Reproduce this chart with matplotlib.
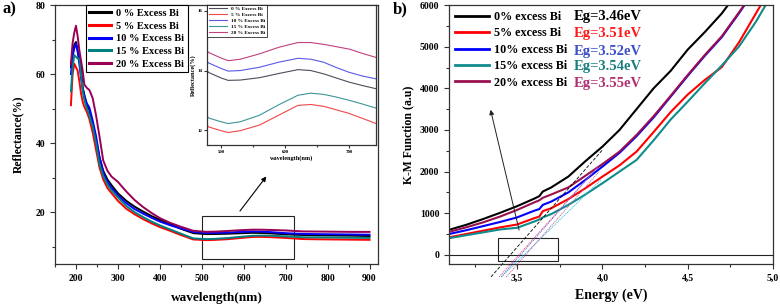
import matplotlib
matplotlib.use("Agg")
import matplotlib.pyplot as plt
from matplotlib.patches import Rectangle
from matplotlib.ticker import MultipleLocator

plt.rcParams['font.family'] = ['Liberation Serif', 'DejaVu Serif']
plt.rcParams['font.weight'] = 'bold'
plt.rcParams['axes.labelweight'] = 'bold'

FIG_W = 7.8  # inches
FIG_H = 3.05

# ---- panel a) diffuse reflectance ----
wavelength = [188, 192, 196, 200, 204, 208, 212, 216, 220, 226, 232, 240, 248, 256,
              265, 275, 285, 300, 320, 340, 360, 380, 400, 425, 450, 480, 500, 511,
              530, 560, 590, 620, 640, 660, 680, 700, 720, 742, 780, 820, 860, 900]

refl_0 = [62, 66, 68.5, 69.3, 67, 64.5, 62, 56, 54, 51, 49.6, 45, 41, 36,
          32, 29.5, 27.8, 25.5, 23.3, 21.6, 20.2, 18.9, 17.8, 16.6, 15.2, 13.94, 13.75, 13.67,
          13.68, 13.76, 13.9, 14.03, 14.0, 13.89, 13.75, 13.61, 13.5, 13.39, 13.3, 13.25, 13.2, 13.1]
refl_5 = [51, 60, 63, 62, 61, 58, 54.5, 52, 50.5, 49, 47, 43, 38, 33,
          29.5, 27, 25.5, 23.3, 21, 19.4, 18.0, 16.8, 15.7, 14.6, 13.4, 12.11, 11.98, 11.92,
          11.98, 12.17, 12.5, 12.83, 12.86, 12.8, 12.68, 12.56, 12.4, 12.22, 12.15, 12.1, 12.05, 12.0]
refl_10 = [60, 65, 67.5, 68.8, 66.5, 63, 59, 56, 53.5, 51.5, 50.3, 46.5, 42, 36,
           31.5, 28.8, 27, 24.9, 22.6, 20.9, 19.6, 18.4, 17.3, 16.2, 15.3, 14.26, 14.07, 13.98,
           14.0, 14.11, 14.28, 14.41, 14.38, 14.28, 14.1, 13.94, 13.82, 13.72, 13.65, 13.6, 13.55, 13.5]
refl_15 = [55, 62, 65.5, 65, 64.5, 64.5, 60, 55, 52.5, 50, 48, 44.8, 40, 34,
           30.5, 28, 26.3, 24.3, 21.8, 20.0, 18.6, 17.3, 16.2, 15.0, 13.8, 12.41, 12.28, 12.22,
           12.28, 12.5, 12.85, 13.17, 13.24, 13.2, 13.11, 13.0, 12.88, 12.74, 12.7, 12.65, 12.6, 12.55]
refl_20 = [63, 69, 72, 74, 71, 67, 64, 61, 57, 56, 55.4, 53, 48, 42,
           35, 32, 30.3, 28.8, 26, 23.5, 21.5, 19.8, 18.3, 16.9, 15.8, 14.61, 14.42, 14.33,
           14.38, 14.56, 14.78, 14.94, 14.94, 14.88, 14.8, 14.72, 14.58, 14.44, 14.4, 14.35, 14.3, 14.3]

labels_a = ["0 % Excess Bi", "5 % Excess Bi", "10 % Excess Bi", "15 % Excess Bi", "20 % Excess Bi"]
colors_a = ["#000000", "#ff0000", "#0000ff", "#008080", "#990055"]
colors_inset = ["#4d4d5c", "#f04848", "#5a5ae6", "#3c9696", "#c04080"]

# ---- panel b) Kubelka-Munk ----
energy = [3.10, 3.20, 3.30, 3.40, 3.50, 3.60, 3.63, 3.65, 3.70, 3.80, 3.90, 4.00,
          4.10, 4.20, 4.30, 4.40, 4.50, 4.60, 4.70, 4.80, 4.90, 5.00]
km_0 = [600, 720, 860, 1010, 1170, 1350, 1410, 1520, 1620, 1880, 2250, 2600,
        3000, 3500, 4000, 4420, 4930, 5350, 5800, 6350, 6900, 7400]
km_5 = [420, 500, 580, 660, 730, 880, 920, 1050, 1120, 1340, 1600, 1880,
        2150, 2480, 2950, 3430, 3850, 4200, 4510, 5100, 5800, 6500]
km_10 = [500, 590, 690, 790, 900, 1060, 1100, 1200, 1280, 1500, 1800, 2120,
         2450, 2850, 3300, 3800, 4300, 4780, 5230, 5800, 6400, 7000]
km_15 = [400, 470, 540, 610, 650, 800, 850, 900, 980, 1200, 1450, 1720,
         2000, 2280, 2750, 3250, 3680, 4120, 4550, 5000, 5600, 6300]
km_20 = [550, 660, 780, 920, 1080, 1260, 1310, 1370, 1450, 1620, 1900, 2180,
         2480, 2880, 3330, 3820, 4320, 4800, 5250, 5820, 6400, 7000]

labels_b = ["0% excess Bi", "5% excess Bi", "10% excess Bi", "15% excess Bi", "20% excess Bi"]
eg_values = [3.46, 3.51, 3.52, 3.54, 3.55]
eg_colors = ["#000000", "#ff1a1a", "#3a4fc8", "#1a7f7f", "#b03070"]
colors_b = ["#000000", "#ff0000", "#0000ff", "#108c8c", "#99104f"]
# tangent extrapolation lines: slope and upper end energy
tan_slope = [4670, 4565, 4670, 4000, 4650]
tan_end = [4.00, 3.97, 3.98, 3.99, 3.98]
tan_colors = ["#000000", "#ff5050", "#5060ff", "#30b8d8", "#c06090"]
tan_bottom = -530


def style_axis(ax, fs=7):
    for s in ax.spines.values():
        s.set_color("#333333")
        s.set_linewidth(0.9)
    ax.tick_params(which='both', direction='out', top=False, right=False,
                   labelsize=fs, width=0.8, color="#333333")
    ax.tick_params(which='major', length=3.5)
    ax.tick_params(which='minor', length=2.5)


fig = plt.figure(figsize=(FIG_W, FIG_H), dpi=100)

# panel a
ax1 = fig.add_axes([0.0705, 0.1344, 0.414, 0.849])
series_a = [refl_0, refl_5, refl_10, refl_15, refl_20]
for y, c, lab in zip(series_a, colors_a, labels_a):
    ax1.plot(wavelength, y, color=c, lw=1.4, label=lab)
ax1.set_xlim(150, 920)
ax1.set_ylim(5, 80)
ax1.xaxis.set_minor_locator(MultipleLocator(50))
ax1.yaxis.set_major_locator(MultipleLocator(20))
ax1.yaxis.set_minor_locator(MultipleLocator(10))
ax1.set_xticks([200, 300, 400, 500, 600, 700, 800, 900])
style_axis(ax1)
ax1.set_xlabel("wavelength(nm)", fontsize=9.5, labelpad=7)
ax1.set_ylabel("Reflectance(%)", fontsize=8.5, labelpad=8)
leg = ax1.legend(loc='upper left', bbox_to_anchor=(0.095, 1.0), fontsize=7.5,
                 handlelength=2.1, handletextpad=0.5, labelspacing=0.32,
                 borderpad=0.35, borderaxespad=0.0, fancybox=False, framealpha=1,
                 edgecolor='black')
leg.get_frame().set_linewidth(0.8)
for h in leg.get_lines():
    h.set_linewidth(2.2)

ax1.add_patch(Rectangle((500, 6.5), 220, 12.5, fill=False, ec='#222222', lw=0.8))
ax1.annotate("", xy=(658, 31), xytext=(587, 19.7),
             arrowprops=dict(arrowstyle='-|>', color='black', lw=0.8, mutation_scale=7))
fig.text(0.003, 0.955, "a)", fontsize=12, fontweight='bold')

# inset
axi = fig.add_axes([0.2654, 0.5246, 0.2167, 0.459])
for y, c, lab in zip(series_a, colors_inset, labels_a):
    axi.plot(wavelength, y, color=c, lw=0.8, label=lab)
axi.set_xlim(478, 742)
axi.set_ylim(11.5, 16.2)
axi.set_xticks([500, 600, 700])
axi.xaxis.set_minor_locator(MultipleLocator(50))
axi.set_yticks([12, 14, 16])
style_axis(axi, fs=3.5)
axi.tick_params(which='major', length=2, pad=1.5)
axi.tick_params(which='minor', length=1.5)
axi.set_xlabel("wavelength(nm)", fontsize=4.5, labelpad=1)
axi.set_ylabel("Reflectance(%)", fontsize=4.5, labelpad=1)
li = axi.legend(loc='upper left', fontsize=3.8, handlelength=3.5, handletextpad=0.8,
                labelspacing=0.25, borderpad=0.3, borderaxespad=0.0, fancybox=False,
                framealpha=1, edgecolor='black')
li.get_frame().set_linewidth(0.5)

# panel b
ax2 = fig.add_axes([0.5756, 0.1344, 0.4154, 0.849])
series_b = [km_0, km_5, km_10, km_15, km_20]
for y, c, lab in zip(series_b, colors_b, labels_b):
    ax2.plot(energy, y, color=c, lw=1.5, label=lab)
ax2.axhline(0, color='#222222', lw=0.8)
for eg, k, e_end, c in zip(eg_values, tan_slope, tan_end, tan_colors):
    e_start = eg + tan_bottom / k
    ls = (0, (4, 2)) if c == "#000000" else (0, (1.5, 1))
    ax2.plot([e_start, e_end], [tan_bottom, k * (e_end - eg)], color=c, lw=0.6,
             ls=ls, clip_on=False)
ax2.set_xlim(3.1, 5.0)
ax2.set_ylim(-220, 6000)
ax2.xaxis.set_minor_locator(MultipleLocator(0.25))
ax2.yaxis.set_major_locator(MultipleLocator(1000))
ax2.yaxis.set_minor_locator(MultipleLocator(500))
ax2.set_xticks([3.5, 4.0, 4.5, 5.0])
ax2.set_xticklabels(["3,5", "4,0", "4,5", "5,0"])
style_axis(ax2)
ax2.set_xlabel("Energy (eV)", fontsize=10, labelpad=4)
ax2.set_ylabel("K-M Function (a.u)", fontsize=8.5, labelpad=4)
lb = ax2.legend(loc='upper left', bbox_to_anchor=(0.0, 1.0), fontsize=8.7,
                handlelength=2.8, handletextpad=0.4, labelspacing=0.36,
                borderpad=0.3, borderaxespad=0.2, frameon=False)
for h in lb.get_lines():
    h.set_linewidth(2.0)
row_y = [0.954, 0.892, 0.822, 0.761, 0.699]
for eg, c, ry in zip(eg_values, eg_colors, row_y):
    ax2.text(0.385, ry, "Eg=%.2feV" % eg, color=c, fontsize=10.5, fontweight='bold',
             transform=ax2.transAxes, va='center', ha='left')

ax2.add_patch(Rectangle((3.39, -140), 0.35, 550, fill=False, ec='#222222', lw=0.8))
ax2.annotate("", xy=(3.34, 3550), xytext=(3.515, 530),
             arrowprops=dict(arrowstyle='-|>', color='#222222', lw=0.7, mutation_scale=7))
fig.text(0.503, 0.955, "b)", fontsize=12, fontweight='bold')

fig.savefig("out.png", dpi=100)
